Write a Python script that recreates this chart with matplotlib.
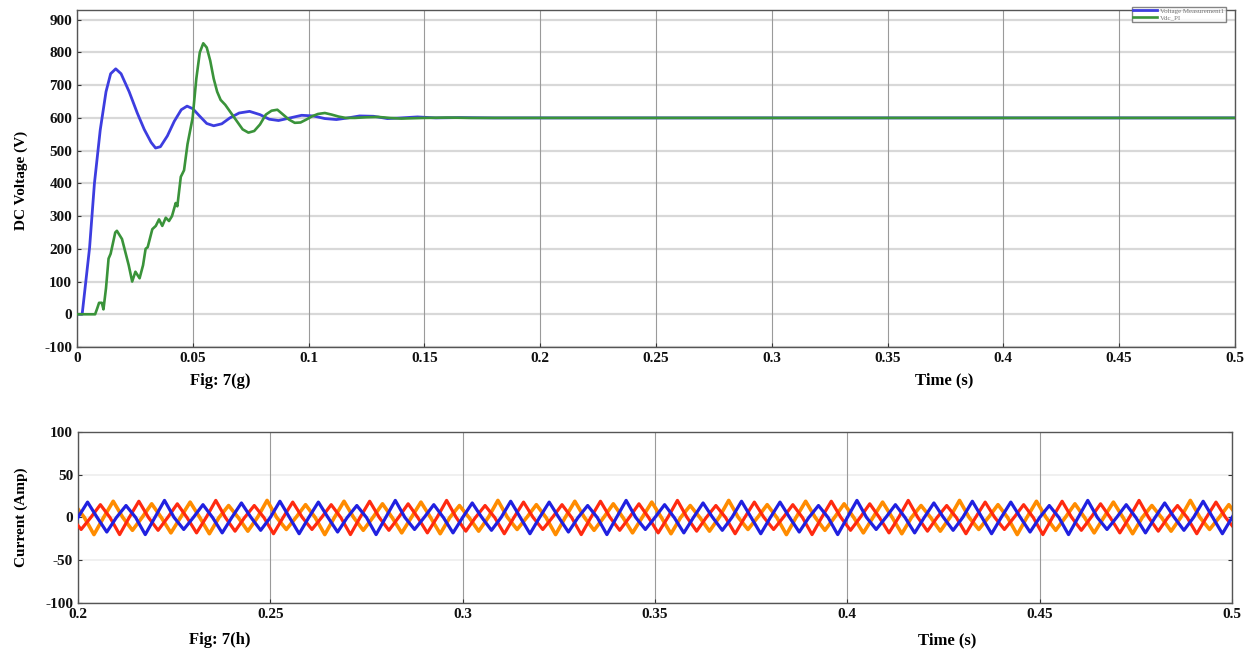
import numpy as np
import matplotlib.pyplot as plt

# ---------------- data: top chart (DC voltage) ----------------
t_vm = [0, 0.0022, 0.0054, 0.0075, 0.010, 0.0125, 0.0145, 0.0167, 0.019, 0.0225, 0.026, 0.029,
        0.032, 0.0339, 0.036, 0.039, 0.042, 0.045, 0.0475, 0.050, 0.053, 0.056, 0.059, 0.0625,
        0.066, 0.070, 0.0745, 0.079, 0.083, 0.087, 0.092, 0.097, 0.102, 0.107, 0.112, 0.117,
        0.122, 0.128, 0.134, 0.14, 0.147, 0.155, 0.165, 0.18, 0.5]
v_vm = [0, 0, 203, 400, 563, 680, 735, 750, 735, 680, 615, 565,
        525, 508, 512, 545, 590, 625, 636, 628, 605, 583, 576, 582,
        600, 615, 620, 610, 596, 592, 600, 608, 606, 598, 595, 600,
        606, 605, 598, 600, 603, 600, 601, 600, 600]

t_pi = [0, 0.0078, 0.0088, 0.0095, 0.0107, 0.0114, 0.0125, 0.0136, 0.0145, 0.0165, 0.0172,
        0.0194, 0.0223, 0.0238, 0.0252, 0.027, 0.0285, 0.0296, 0.0305, 0.0325, 0.034, 0.0354,
        0.0368, 0.0383, 0.0397, 0.041, 0.0426, 0.0433, 0.0448, 0.0462, 0.0477, 0.0499, 0.0515,
        0.053, 0.0545, 0.056, 0.0575, 0.059, 0.0605, 0.062, 0.064, 0.0665, 0.069, 0.0715,
        0.074, 0.0765, 0.079, 0.0815, 0.084, 0.0865, 0.089, 0.0915, 0.094, 0.0965, 0.099,
        0.1015, 0.104, 0.107, 0.11, 0.113, 0.116, 0.12, 0.125, 0.13, 0.135, 0.14, 0.15,
        0.16, 0.17, 0.2, 0.5]
v_pi = [0, 0, 20, 35, 35, 15, 80, 170, 185, 250, 255,
        230, 150, 100, 130, 110, 150, 200, 205, 260, 270, 290,
        270, 295, 285, 300, 340, 330, 420, 440, 520, 600, 720,
        800, 828, 815, 775, 720, 680, 655, 640, 615, 590, 565,
        555, 560, 580, 610, 622, 625, 610, 595, 585, 586, 595,
        605, 612, 615, 610, 604, 600, 600, 602, 603, 600, 598, 600,
        601, 600, 600, 600]

legend_labels = ["Voltage Measurement1", "Vdc_PI"]
top_xticks = [0, 0.05, 0.1, 0.15, 0.2, 0.25, 0.3, 0.35, 0.4, 0.45, 0.5]
top_xticklabels = ["0", "0.05", "0.1", "0.15", "0.2", "0.25", "0.3", "0.35", "0.4", "0.45", "0.5"]
top_yticks = [-100, 0, 100, 200, 300, 400, 500, 600, 700, 800, 900]

# ---------------- data: bottom chart (three-phase currents) ----------------
cur_t_start = 0.2
cur_t_end = 0.5
cur_period = 0.01
phase_shift = [0.0, 1 / 3, 2 / 3]
peaks_a = [18, 14, 20, 15, 17, 19]
troughs_a = [-17, -20, -14, -18, -15, -19]
peaks_b = [15, 19, 16, 20, 14, 18]
troughs_b = [-20, -15, -18, -16, -19, -14]
peaks_c = [19, 16, 18, 14, 20, 15]
troughs_c = [-15, -18, -19, -16, -14, -20]

bot_xticks = [0.2, 0.25, 0.3, 0.35, 0.4, 0.45, 0.5]
bot_xticklabels = ["0.2", "0.25", "0.3", "0.35", "0.4", "0.45", "0.5"]
bot_yticks = [-100, -50, 0, 50, 100]


def phase_wave(peaks, troughs, shift):
    ts, vs = [], []
    n = int(round((cur_t_end - cur_t_start) / cur_period)) + 2
    for k in range(-1, n):
        base = cur_t_start + (k + shift) * cur_period
        pk = peaks[k % len(peaks)]
        tr = troughs[k % len(troughs)]
        ts += [base, base + cur_period / 4, base + cur_period / 2, base + 3 * cur_period / 4]
        vs += [0, pk, 0, tr]
    return np.array(ts), np.array(vs, dtype=float)


plt.rcParams['font.family'] = ['Liberation Serif', 'DejaVu Serif']
plt.rcParams['font.weight'] = 'bold'
plt.rcParams['axes.unicode_minus'] = False

fig = plt.figure(figsize=(12.49, 6.52), dpi=100)

# ---------------- top axes ----------------
ax1 = fig.add_axes([0.0617, 0.4678, 0.927, 0.517])
for y in top_yticks:
    ax1.axhline(y, color='#d8d8d8', lw=1.6, zorder=0)
for x in top_xticks:
    ax1.axvline(x, color='#9a9a9a', lw=0.8, zorder=0)
ax1.plot(t_vm, v_vm, color='#3d3de0', lw=2.0, label=legend_labels[0], zorder=2)
ax1.plot(t_pi, v_pi, color='#3a933a', lw=1.9, label=legend_labels[1], zorder=3)
ax1.set_xlim(0, 0.5)
ax1.set_ylim(-100, 930)
ax1.set_xticks(top_xticks)
ax1.set_xticklabels(top_xticklabels)
ax1.set_yticks(top_yticks)
ax1.tick_params(axis='both', labelsize=11, length=3, direction='in', colors='#333333',
                labelcolor='#111111')
for lab in ax1.get_xticklabels() + ax1.get_yticklabels():
    lab.set_fontweight('bold')
for s in ax1.spines.values():
    s.set_color('#555555')
    s.set_linewidth(1.0)
leg = ax1.legend(loc='upper right', bbox_to_anchor=(0.995, 1.02), fontsize=5,
                 handlelength=3.5, borderpad=0.2, labelspacing=0.1, frameon=True,
                 fancybox=False, edgecolor='#666666', handletextpad=0.4)
for txt in leg.get_texts():
    txt.set_color('#777777')
    txt.set_fontweight('normal')

fig.text(0.017, 0.724, "DC Voltage (V)", fontsize=11, fontweight='bold', rotation=90,
         ha='center', va='center')
fig.text(0.176, 0.416, "Fig: 7(g)", fontsize=12, fontweight='bold', ha='center', va='center')
fig.text(0.756, 0.416, "Time (s)", fontsize=12, fontweight='bold', ha='center', va='center')

# ---------------- bottom axes ----------------
ax2 = fig.add_axes([0.0624, 0.0752, 0.924, 0.2622])
for y in bot_yticks:
    ax2.axhline(y, color='#eeeeee', lw=1.2, zorder=0)
for x in bot_xticks:
    ax2.axvline(x, color='#9a9a9a', lw=0.8, zorder=0)
ta, va = phase_wave(peaks_a, troughs_a, phase_shift[0])
tb, vb = phase_wave(peaks_b, troughs_b, phase_shift[1])
tc, vc = phase_wave(peaks_c, troughs_c, phase_shift[2])
ax2.plot(tc, vc, color='#ff8c00', lw=2.6, zorder=2)
ax2.plot(tb, vb, color='#ff2a10', lw=2.3, zorder=3)
ax2.plot(ta, va, color='#2020e0', lw=2.3, zorder=4)
ax2.set_xlim(0.2, 0.5)
ax2.set_ylim(-100, 100)
ax2.set_xticks(bot_xticks)
ax2.set_xticklabels(bot_xticklabels)
ax2.set_yticks(bot_yticks)
ax2.tick_params(axis='both', labelsize=11, length=3, direction='in', colors='#333333',
                labelcolor='#111111', right=True)
for lab in ax2.get_xticklabels() + ax2.get_yticklabels():
    lab.set_fontweight('bold')
for s in ax2.spines.values():
    s.set_color('#555555')
    s.set_linewidth(1.0)

fig.text(0.017, 0.206, "Current (Amp)", fontsize=11, fontweight='bold', rotation=90,
         ha='center', va='center')
fig.text(0.176, 0.018, "Fig: 7(h)", fontsize=12, fontweight='bold', ha='center', va='center')
fig.text(0.758, 0.018, "Time (s)", fontsize=12, fontweight='bold', ha='center', va='center')

fig.savefig("out.png", dpi=100)
